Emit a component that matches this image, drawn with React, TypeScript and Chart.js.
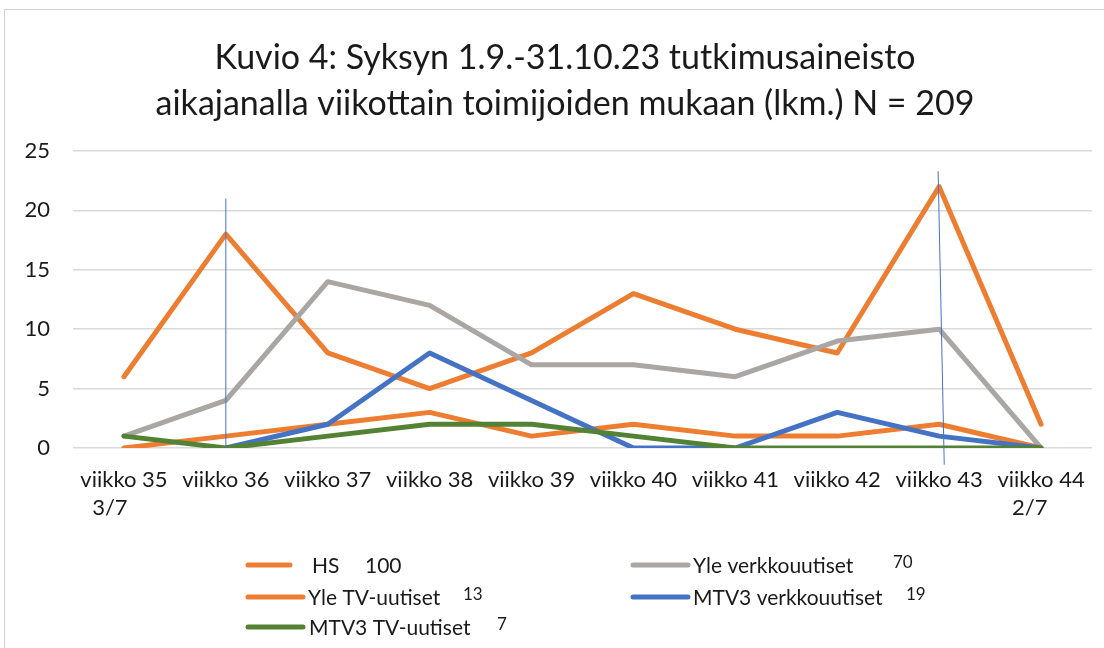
import React, { useEffect, useRef } from "react";
import { Chart, registerables } from "chart.js";

Chart.register(...registerables);

// ---------- data ----------
const weekLabels: (string | string[])[] = [
  ["viikko 35", "3/7     "],
  "viikko 36",
  "viikko 37",
  "viikko 38",
  "viikko 39",
  "viikko 40",
  "viikko 41",
  "viikko 42",
  "viikko 43",
  ["viikko 44", "2/7    "],
];

const hsValues = [6, 18, 8, 5, 8, 13, 10, 8, 22, 2];
const yleVerkkoValues = [1, 4, 14, 12, 7, 7, 6, 9, 10, 0];
const yleTvValues = [0, 1, 2, 3, 1, 2, 1, 1, 2, 0];
const mtvVerkkoValues = [null, 0, 2, 8, 4, 0, 0, 3, 1, 0];
const mtvTvValues = [1, 0, 1, 2, 2, 1, 0, 0, 0, 0];

const seriesNames = ["HS", "Yle verkkouutiset", "Yle TV-uutiset", "MTV3 verkkouutiset", "MTV3 TV-uutiset"];
const seriesTotals = ["100", "70", "13", "19", "7"];

const yTicks = [0, 5, 10, 15, 20, 25];

// hand-drawn marker lines (category index / value at top and bottom)
const markerTopIndex = [1, 7.99];
const markerBottomIndex = [1, 8.05];
const markerTopValue = [21, 23.3];
const markerBottomValue = [0, -1.4];

const titleLines = [
  "Kuvio 4: Syksyn 1.9.-31.10.23 tutkimusaineisto",
  "aikajanalla viikottain toimijoiden mukaan (lkm.) N = 209",
];

// ---------- styles ----------
const FONT = "Lato, 'Open Sans', sans-serif";
const ORANGE = "#ED7D31";
const GRAY = "#A9A6A4";
const BLUE = "#4472C4";
const GREEN = "#548235";
const TEXT = "#1a1a1a";
const colors = [ORANGE, GRAY, ORANGE, BLUE, GREEN];
const TITLE_SIZE = 34;

const markerPlugin = {
  id: "markers",
  afterDatasetsDraw(chart: any) {
    const { ctx, scales } = chart;
    const x = scales.x;
    const y = scales.y;
    ctx.save();
    ctx.strokeStyle = BLUE;
    ctx.lineWidth = 1;
    for (let i = 0; i < markerTopIndex.length; i++) {
      ctx.beginPath();
      ctx.moveTo(x.getPixelForValue(markerTopIndex[i]), y.getPixelForValue(markerTopValue[i]));
      ctx.lineTo(x.getPixelForValue(markerBottomIndex[i]), y.getPixelForValue(markerBottomValue[i]));
      ctx.stroke();
    }
    ctx.restore();
  },
};

// legend layout (canvas coordinates)
const legendLayout = [
  { lx0: 243, lx1: 285, tx: 307, row: 0, numX: 360, small: false },
  { lx0: 628, lx1: 683, tx: 688, row: 0, numX: 888, small: true },
  { lx0: 243, lx1: 298, tx: 303, row: 1, numX: 458, small: true },
  { lx0: 628, lx1: 683, tx: 688, row: 1, numX: 901, small: true },
  { lx0: 243, lx1: 298, tx: 304, row: 2, numX: 492, small: true },
];
const legendRowY = [555, 587, 617];

const legendPlugin = {
  id: "customLegend",
  afterDraw(chart: any) {
    const { ctx } = chart;
    ctx.save();
    ctx.textBaseline = "middle";
    ctx.textAlign = "left";
    legendLayout.forEach((l, i) => {
      const y = legendRowY[l.row];
      ctx.strokeStyle = colors[i];
      ctx.lineWidth = 5;
      ctx.lineCap = "round";
      ctx.beginPath();
      ctx.moveTo(l.lx0, y);
      ctx.lineTo(l.lx1, y);
      ctx.stroke();
      ctx.fillStyle = TEXT;
      ctx.font = `21px ${FONT}`;
      ctx.fillText(seriesNames[i], l.tx, y + 1);
      if (l.small) {
        ctx.font = `17px ${FONT}`;
        ctx.fillText(seriesTotals[i], l.numX, y - 2);
      } else {
        ctx.font = `21px ${FONT}`;
        ctx.fillText(seriesTotals[i], l.numX, y + 1);
      }
    });
    ctx.restore();
  },
};

export default function App() {
  const ref = useRef<HTMLCanvasElement | null>(null);

  useEffect(() => {
    if (!ref.current) return;
    const valueSets = [hsValues, yleVerkkoValues, yleTvValues, mtvVerkkoValues, mtvTvValues];
    const chart = new Chart(ref.current, {
      type: "line",
      data: {
        labels: weekLabels,
        datasets: valueSets.map((vals, i) => ({
          label: seriesNames[i],
          data: vals,
          borderColor: colors[i],
          backgroundColor: colors[i],
          borderWidth: 5,
          pointRadius: 0,
          pointHoverRadius: 0,
          tension: 0,
          fill: false,
          spanGaps: false,
          borderCapStyle: "round",
          borderJoinStyle: "round",
          order: 5 - i,
          yAxisID: "y",
        })),
      },
      options: {
        responsive: false,
        animation: false,
        devicePixelRatio: 1,
        layout: { padding: { left: 0, right: 0, top: 0, bottom: 116 } },
        plugins: {
          legend: { display: false },
          tooltip: { enabled: false },
          title: {
            display: true,
            text: titleLines,
            color: TEXT,
            font: { family: FONT, size: TITLE_SIZE, weight: "normal", lineHeight: 46 / TITLE_SIZE },
            padding: { top: 25, bottom: 24 },
          },
        },
        scales: {
          x: {
            offset: true,
            grid: { display: false },
            border: { display: false },
            ticks: {
              autoSkip: false,
              maxRotation: 0,
              minRotation: 0,
              padding: 10,
              color: TEXT,
              font: { family: FONT, size: 22, lineHeight: 28 / 22 },
            },
          },
          y: {
            min: 0,
            max: 25,
            afterFit: (s: any) => {
              s.width = 68;
            },
            afterBuildTicks: (s: any) => {
              s.ticks = yTicks.map((v) => ({ value: v }));
            },
            grid: { color: "#d9d9d9", lineWidth: 1.5, drawTicks: false },
            border: { display: false },
            ticks: {
              padding: 23,
              color: TEXT,
              font: { family: FONT, size: 22 },
            },
          },
          y2: {
            position: "right",
            display: true,
            grid: { display: false, drawOnChartArea: false },
            border: { display: false },
            ticks: { display: false },
            afterFit: (s: any) => {
              s.width = 33;
            },
          },
        },
      } as any,
      plugins: [markerPlugin, legendPlugin],
    });
    return () => chart.destroy();
  }, []);

  return (
    <div style={{ position: "absolute", left: 0, top: 0, width: 1104, height: 648, overflow: "hidden", background: "#fff" }}>
      <div
        style={{
          position: "absolute",
          left: 4,
          top: 9,
          width: 1130,
          height: 660,
          borderLeft: "1px solid #d0d0d0",
          borderTop: "1px solid #d0d0d0",
          background: "#fff",
        }}
      >
        <canvas ref={ref} width={1120} height={638} style={{ display: "block", width: 1120, height: 638 }} />
      </div>
    </div>
  );
}
